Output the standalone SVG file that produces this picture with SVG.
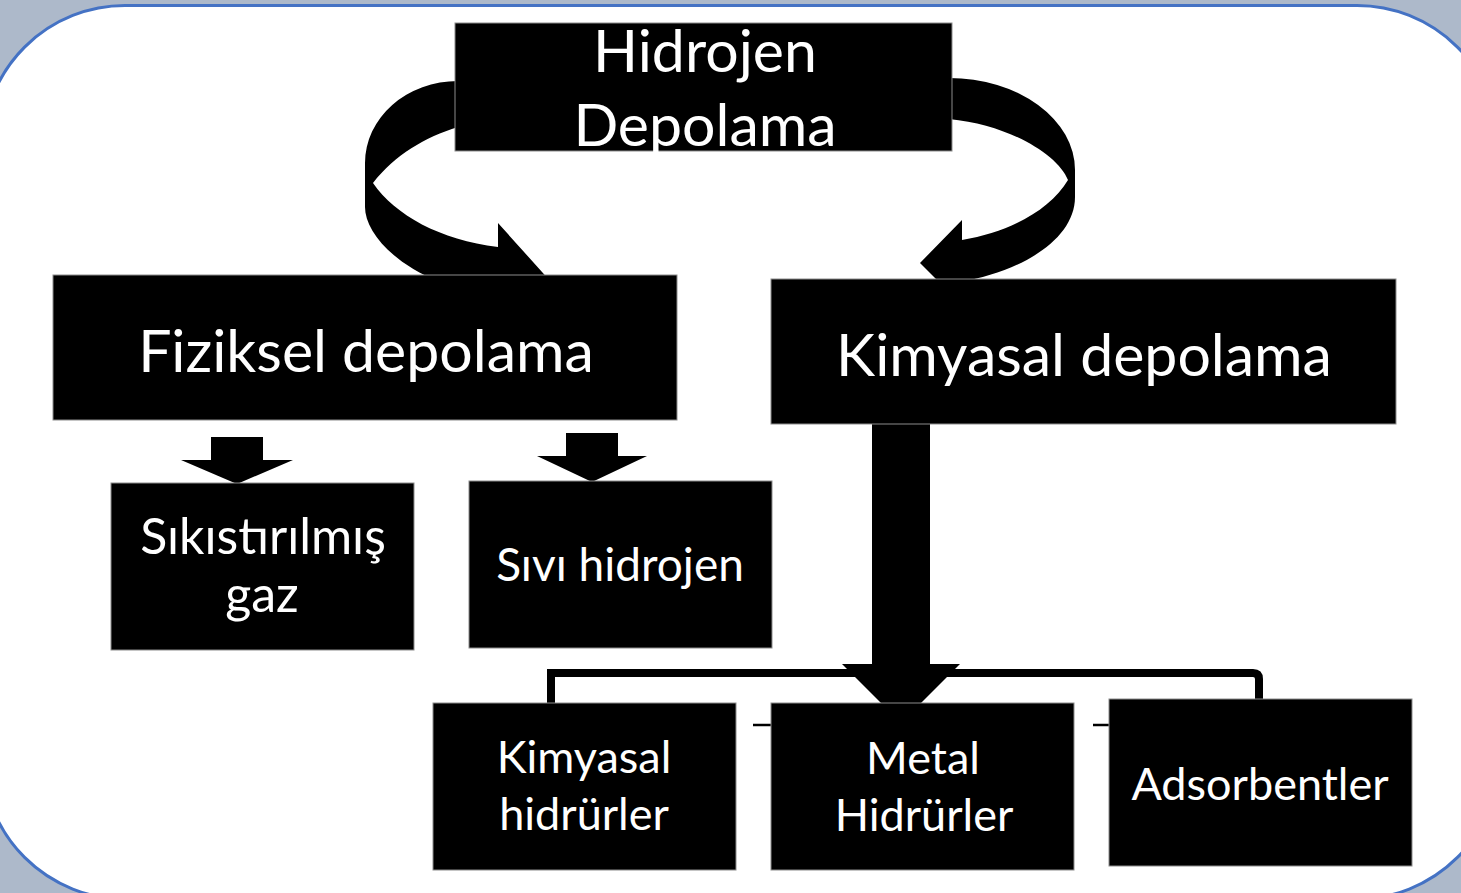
<svg xmlns="http://www.w3.org/2000/svg" width="1461" height="893" viewBox="0 0 1461 893">
  <defs>
    <style>
      .box { fill: #000000; stroke: #8c8c8c; stroke-width: 1; }
      .lbl { fill: #ffffff; font-family: Lato, "Open Sans", "Liberation Sans", sans-serif; text-anchor: middle; }
      .big { font-size: 59px; }
      .mid { font-size: 50px; }
      .sml { font-size: 45px; }
      .shape { fill: #000000; }
      .elbow { fill: none; stroke: #000000; stroke-width: 8; }
      .stub { fill: none; stroke: #000000; stroke-width: 2.5; }
    </style>
  </defs>

  <rect x="0" y="0" width="1461" height="893" fill="#adb9ca"/>
  <rect x="-17" y="5.5" width="1516" height="893.5" rx="142" ry="142" fill="#ffffff" stroke="#4472c4" stroke-width="3"/>

  <g id="connectors">
    <!-- curved arrow to Fiziksel depolama -->
    <path class="shape" d="M 458 81 A 93 82 0 0 0 365 163 L 365 207 C 365 230 390 262 440 282 L 470 292 L 560 292 L 498 223 L 498 247 C 440 240 395 215 373 183 C 395 155 425 137 458 127 Z"/>
    <!-- curved arrow to Kimyasal depolama -->
    <path class="shape" d="M 949 78 A 126 92 0 0 1 1075 170 L 1075 197 C 1075 240 1020 272 960 282 L 945 288 L 920 263 L 962 220 L 962 240 C 1010 232 1050 210 1068 180 C 1058 155 1010 125 949 119 Z"/>
    <!-- block arrow to Sikistirilmis gaz -->
    <path class="shape" d="M 211 437 H 263 V 460 H 293 L 237 484 L 181 460 H 211 Z"/>
    <!-- block arrow to Sivi hidrojen -->
    <path class="shape" d="M 566 433 H 618 V 456 H 647 L 592 482 L 537 456 H 566 Z"/>
    <!-- elbow connector -->
    <path class="elbow" d="M 551 703 V 673 H 1253 Q 1259 673 1259 679 V 699"/>
    <!-- small stubs -->
    <line class="stub" x1="753" y1="725" x2="771" y2="725"/>
    <line class="stub" x1="1093" y1="725" x2="1109" y2="725"/>
    <!-- big block arrow from Kimyasal depolama -->
    <path class="shape" d="M 872 420 H 930 V 664 H 960 L 901 723 L 842 664 H 872 Z"/>
  </g>

  <g id="node-hidrojen">
    <rect class="box" x="455" y="23" width="497" height="128"/>
    <text class="lbl big" x="705" y="72">Hidrojen</text>
    <text class="lbl big" x="705" y="146">Depolama</text>
  </g>

  <g id="node-fiziksel">
    <rect class="box" x="53" y="275" width="624" height="145"/>
    <text class="lbl big" x="366" y="372">Fiziksel depolama</text>
  </g>

  <g id="node-kimyasal">
    <rect class="box" x="771" y="279" width="625" height="145"/>
    <text class="lbl big" x="1084" y="376">Kimyasal depolama</text>
  </g>

  <g id="node-sikistirilmis">
    <rect class="box" x="111" y="483" width="303" height="167"/>
    <text class="lbl mid" x="263" y="554">Sıkıstırılmış</text>
    <text class="lbl mid" x="262" y="612">gaz</text>
  </g>

  <g id="node-sivi">
    <rect class="box" x="469" y="481" width="303" height="167"/>
    <text class="lbl sml" x="620" y="581" style="font-size:46px">Sıvı hidrojen</text>
  </g>

  <g id="node-kimyasal-hidrurler">
    <rect class="box" x="433" y="703" width="303" height="167"/>
    <text class="lbl sml" x="584" y="773">Kimyasal</text>
    <text class="lbl sml" x="584" y="830">hidrürler</text>
  </g>

  <g id="node-metal">
    <rect class="box" x="771" y="703" width="303" height="167"/>
    <text class="lbl sml" x="923" y="774">Metal</text>
    <text class="lbl sml" x="924" y="831">Hidrürler</text>
  </g>

  <g id="node-adsorbentler">
    <rect class="box" x="1109" y="699" width="303" height="167"/>
    <text class="lbl sml" x="1260" y="800">Adsorbentler</text>
  </g>
</svg>
